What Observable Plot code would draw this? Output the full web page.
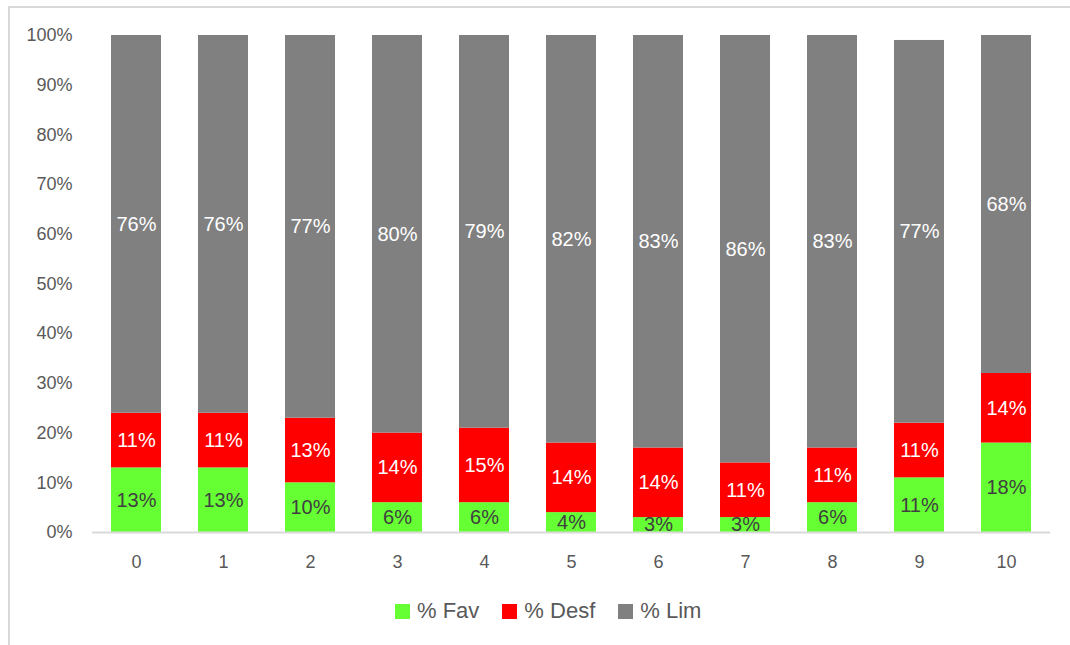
<!DOCTYPE html>
<html>
<head>
<meta charset="utf-8">
<script src="https://cdn.jsdelivr.net/npm/d3@7"></script>
<script src="https://cdn.jsdelivr.net/npm/@observablehq/plot@0.6"></script>
<style>
  html, body { margin: 0; padding: 0; background: #fff; overflow: hidden; }
  body { width: 1070px; height: 645px; position: relative; font-family: "Liberation Sans", Arial, sans-serif; }
  #frame { position: absolute; left: 8px; top: 6px; width: 1200px; height: 800px; border-left: 2px solid #d9d9d9; border-top: 2px solid #d9d9d9; pointer-events: none; }
  #chart { position: relative; }
  #legend { display: flex; align-items: center; height: 30px; margin-top: 16px; padding-left: 395px; font-size: 22px; color: #595959; }
  .item { display: flex; align-items: center; margin-right: 23px; }
  .sw { width: 15px; height: 15px; margin-right: 7px; }
</style>
</head>
<body>
<div id="frame"></div>
<div id="chart"></div>
<div id="legend"></div>
<script>
const categories = ["0", "1", "2", "3", "4", "5", "6", "7", "8", "9", "10"];
const seriesNames = ["% Fav", "% Desf", "% Lim"];
const seriesColors = ["#66ff33", "#ff0000", "#808080"];
const fav  = [13, 13, 10, 6, 6, 4, 3, 3, 6, 11, 18];
const desf = [11, 11, 13, 14, 15, 14, 14, 11, 11, 11, 14];
const lim  = [76, 76, 77, 80, 79, 82, 83, 86, 83, 77, 68];
const yTicks = [0, 10, 20, 30, 40, 50, 60, 70, 80, 90, 100];

const valuesBySeries = [fav, desf, lim];
const data = [];
categories.forEach((c, i) => {
  seriesNames.forEach((s, j) => data.push({cat: c, series: s, value: valuesBySeries[j][i]}));
});

const stackOpts = {x: "cat", y: "value", z: "series", order: seriesNames, text: d => d.value + "%", fontSize: 20};

const plot = Plot.plot({
  width: 1070,
  height: 580,
  marginLeft: 92,
  marginRight: 20,
  marginTop: 35,
  marginBottom: 48,
  style: {fontFamily: "'Liberation Sans', Arial, sans-serif", background: "transparent"},
  x: {domain: categories, paddingInner: 0.425, paddingOuter: 0.2125, label: null},
  y: {domain: [0, 100], label: null},
  color: {domain: seriesNames, range: seriesColors},
  marks: [
    Plot.barY(data, {x: "cat", y: "value", fill: "series", z: "series", order: seriesNames}),
    Plot.ruleY([0], {stroke: "#d9d9d9", strokeWidth: 2}),
    Plot.text(data, Plot.filter(d => d.series === "% Fav", Plot.stackY({...stackOpts, fill: "#404040"}))),
    Plot.text(data, Plot.filter(d => d.series !== "% Fav", Plot.stackY({...stackOpts, fill: "#ffffff"}))),
    Plot.axisY({ticks: yTicks, tickFormat: d => d + "%", tickSize: 0, tickPadding: 20, fontSize: 18, color: "#595959", label: null}),
    Plot.axisX({tickSize: 0, tickPadding: 23, fontSize: 18, color: "#595959", label: null})
  ]
});
document.getElementById("chart").appendChild(plot);

const legend = document.getElementById("legend");
seriesNames.forEach((s, i) => {
  const item = document.createElement("div");
  item.className = "item";
  const sw = document.createElement("div");
  sw.className = "sw";
  sw.style.background = seriesColors[i];
  const t = document.createElement("span");
  t.textContent = s;
  item.appendChild(sw);
  item.appendChild(t);
  legend.appendChild(item);
});
</script>
</body>
</html>
